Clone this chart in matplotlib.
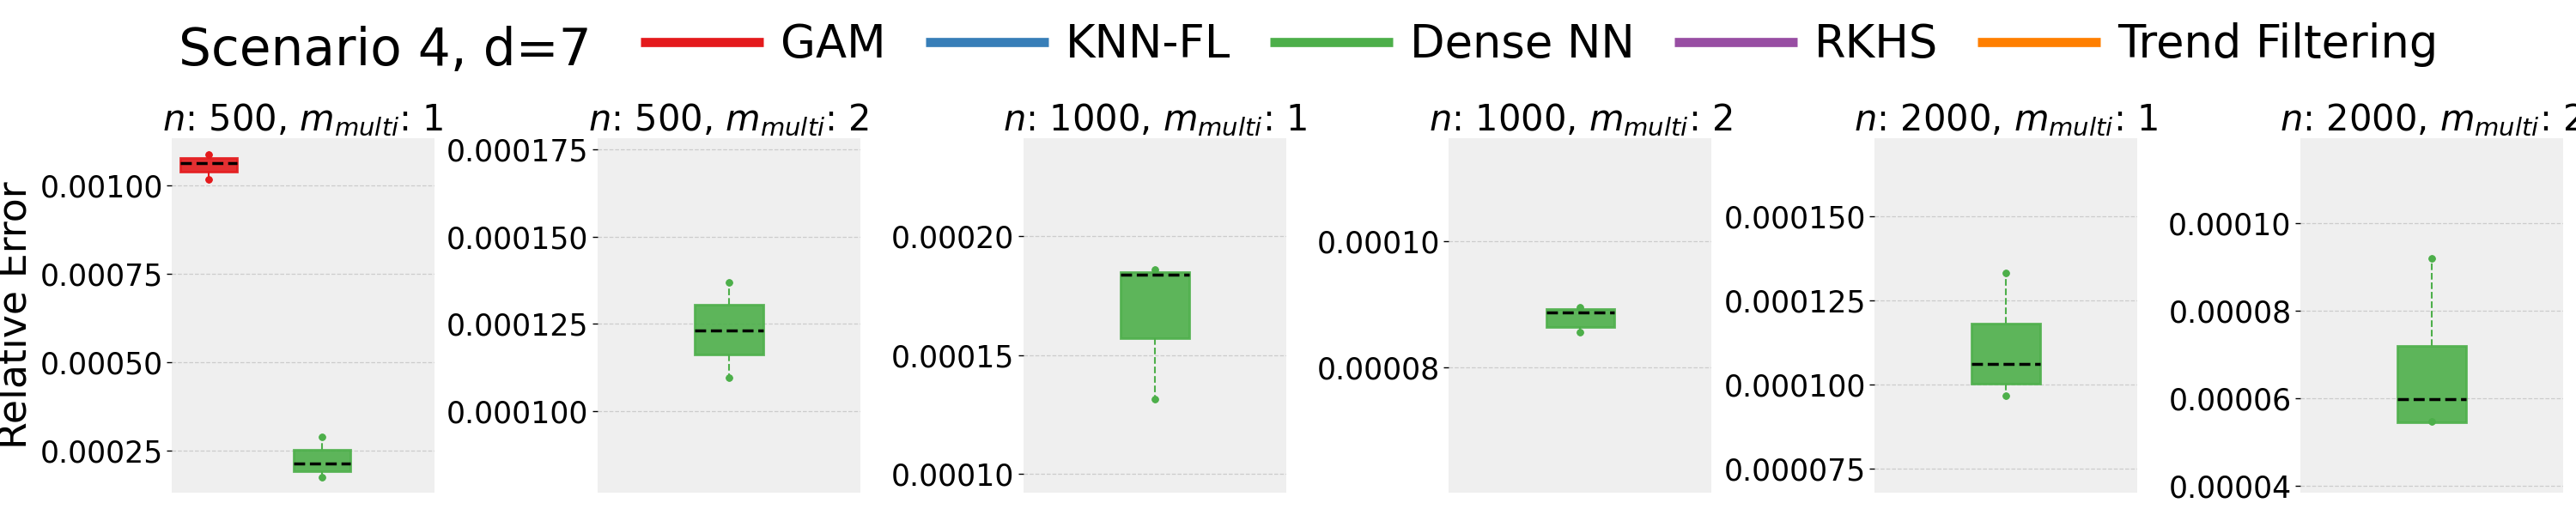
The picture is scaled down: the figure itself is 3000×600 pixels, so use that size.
import matplotlib
matplotlib.use("Agg")
import matplotlib.pyplot as plt
from matplotlib.lines import Line2D

# methods and colours (Set1)
methods = ["GAM", "KNN-FL", "Dense NN", "RKHS", "Trend Filtering"]
colors = ["#e41a1c", "#377eb8", "#4daf4a", "#984ea3", "#ff7f00"]

n_values = [500, 500, 1000, 1000, 2000, 2000]
m_values = [1, 2, 1, 2, 1, 2]

# five-number summaries: whislo, q1, median, q3, whishi
gam_stats = {0: [0.001018, 0.001039, 0.001063, 0.001078, 0.001087]}
dnn_stats = [
    [0.000176, 0.000193, 0.000214, 0.000253, 0.000290],
    [0.0001096, 0.0001162, 0.0001231, 0.0001305, 0.0001369],
    [0.0001313, 0.0001570, 0.0001838, 0.0001848, 0.0001858],
    [0.0000857, 0.0000864, 0.0000887, 0.0000893, 0.0000896],
    [0.0000967, 0.0001003, 0.0001062, 0.0001181, 0.0001331],
    [0.0000547, 0.0000545, 0.0000598, 0.0000719, 0.0000920],
]

ylims = [
    (0.000132, 0.001134),
    (0.0000767, 0.0001782),
    (0.0000921, 0.0002412),
    (0.0000602, 0.0001164),
    (0.0000679, 0.0001733),
    (0.0000384, 0.0001195),
]
yticks = [
    [0.00025, 0.00050, 0.00075, 0.00100],
    [0.000100, 0.000125, 0.000150, 0.000175],
    [0.00010, 0.00015, 0.00020],
    [0.00008, 0.00010],
    [0.000075, 0.000100, 0.000125, 0.000150],
    [0.00004, 0.00006, 0.00008, 0.00010],
]


def stats_dict(s, label):
    lo, q1, med, q3, hi = s
    return dict(whislo=lo, q1=q1, med=med, q3=q3, whishi=hi, fliers=[], label=label)


def draw_box(ax, s, pos, color):
    ax.bxp([stats_dict(s, "")], positions=[pos], widths=1.0, patch_artist=True,
           showfliers=False, capwidths=0,
           boxprops=dict(facecolor=color, edgecolor=color, alpha=0.9, linewidth=2),
           whiskerprops=dict(color=color, linestyle="--", linewidth=1.5),
           capprops=dict(color=color, marker="o", markersize=5, linestyle="none"),
           medianprops=dict(color="black", linestyle="--", linewidth=2.5))


fig = plt.figure(figsize=(30, 6), dpi=100)
axes = fig.subplots(1, 6)
fig.subplots_adjust(left=0.0667, right=0.995, bottom=0.0433, top=0.732, wspace=0.62)

for i, ax in enumerate(axes):
    ax.set_facecolor("#efefef")
    for sp in ax.spines.values():
        sp.set_visible(False)
    ax.set_axisbelow(True)
    ax.yaxis.grid(True, linestyle="--", color="#cccccc", linewidth=0.9)

    if i in gam_stats:
        draw_box(ax, gam_stats[i], 0, colors[0])
        draw_box(ax, dnn_stats[i], 2, colors[2])
        ax.set_xlim(-0.654, 3.99)
    else:
        draw_box(ax, dnn_stats[i], 2, colors[2])
        ax.set_xlim(0.08, 3.92)

    ax.set_ylim(*ylims[i])
    ax.set_yticks(yticks[i])
    ax.ticklabel_format(axis="y", style="plain", useOffset=False)
    ax.set_xticks([])
    ax.tick_params(axis="y", labelsize=25, length=4, width=1)
    ax.set_title(rf"$n$: {n_values[i]}, $m_{{multi}}$: {m_values[i]}", fontsize=30)

axes[0].set_ylabel("Relative Error", fontsize=33)

# legend across the top
fig.text(208 / 3000, 1 - 76 / 600, "Scenario 4, d=7", fontsize=43, va="baseline", ha="left")
handles = [Line2D([], [], color=c, linewidth=7.7, solid_capstyle="butt") for c in colors]
fig.legend(handles, methods, loc="center left", bbox_to_anchor=(746 / 3000, 0.913),
           ncol=5, frameon=False, fontsize=38, handlelength=2.71, handletextpad=0.38,
           columnspacing=0.87, borderpad=0, borderaxespad=0)

fig.savefig("out.png", dpi=100)
